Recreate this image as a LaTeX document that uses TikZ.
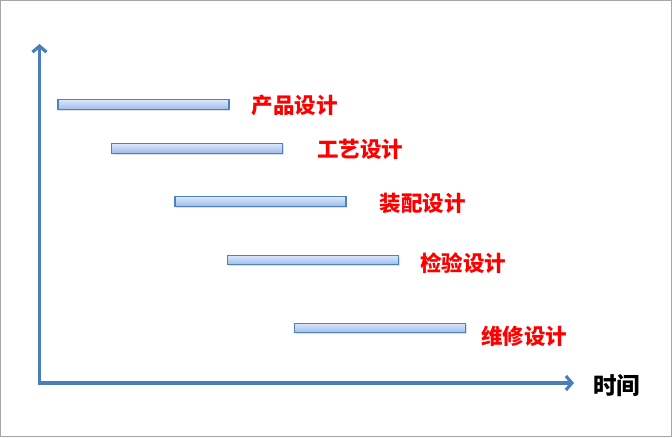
\documentclass[tikz,border=0pt]{standalone}
\usepackage{fontspec}
\newfontfamily\cjk{Noto Sans CJK SC}
\usetikzlibrary{positioning,arrows.meta,shadows}
\definecolor{axisblue}{HTML}{4A7EBB}
\definecolor{barline}{HTML}{4F81BD}
\definecolor{bartop}{HTML}{DAE6FA}
\definecolor{barbot}{HTML}{9DBCEC}
\definecolor{lblred}{HTML}{FF0000}
\begin{document}
\begin{tikzpicture}[
              x = 1pt, y = -1pt,
              bar/.style = {draw = barline, line width = 1.1pt, top color = bartop,
                            bottom color = barbot, minimum width = 171pt,
                            minimum height = 9.5pt, inner sep = 0pt,
                            drop shadow = {shadow xshift = 1pt, shadow yshift = -1.5pt,
                                           opacity = 0.25}},
              lbl/.style = {text = lblred, font = \cjk\bfseries\fontsize{21.5pt}{23pt}\selectfont,
                            inner sep = 0pt, anchor = west},
              axis/.style = {draw = axisblue, line width = 3.2pt,
                             {Straight Barb[length = 6pt, width = 14pt]}-{Straight Barb[length = 6pt, width = 14pt]}}
            ]
            \useasboundingbox (0,0) rectangle (672,437);
            \draw[black!35, line width = 1pt] (0.5,0.5) rectangle (671.5,436.5);
            % axes
            \coordinate (ytip) at (39.5,44);
            \coordinate (xtip) at (574,383);
            \draw[axis] (ytip) |- (xtip);
            \node[anchor = west, inner sep = 0pt, font = \cjk\bfseries\fontsize{23.5pt}{25pt}\selectfont]
              (time) at (593,385.5) {时间};
            % bars
            \node[bar] (p1) at (143.5,104.5) {};
            \node[bar] (p2) at (197,148.5) {};
            \node[bar] (p3) at (260.5,201.5) {};
            \node[bar] (p4) at (313,260) {};
            \node[bar] (p5) at (380,328) {};
            % labels
            \node[lbl, right = 22pt of p1, yshift = -0.5pt] (l1) {产品设计};
            \node[lbl, right = 34pt of p2, yshift = -1pt] (l2) {工艺设计};
            \node[lbl, right = 33pt of p3, yshift = -2pt] (l3) {装配设计};
            \node[lbl, right = 21pt of p4, yshift = -3pt] (l4) {检验设计};
            \node[lbl, right = 15pt of p5, yshift = -8.5pt] (l5) {维修设计};
\end{tikzpicture}
\end{document}
